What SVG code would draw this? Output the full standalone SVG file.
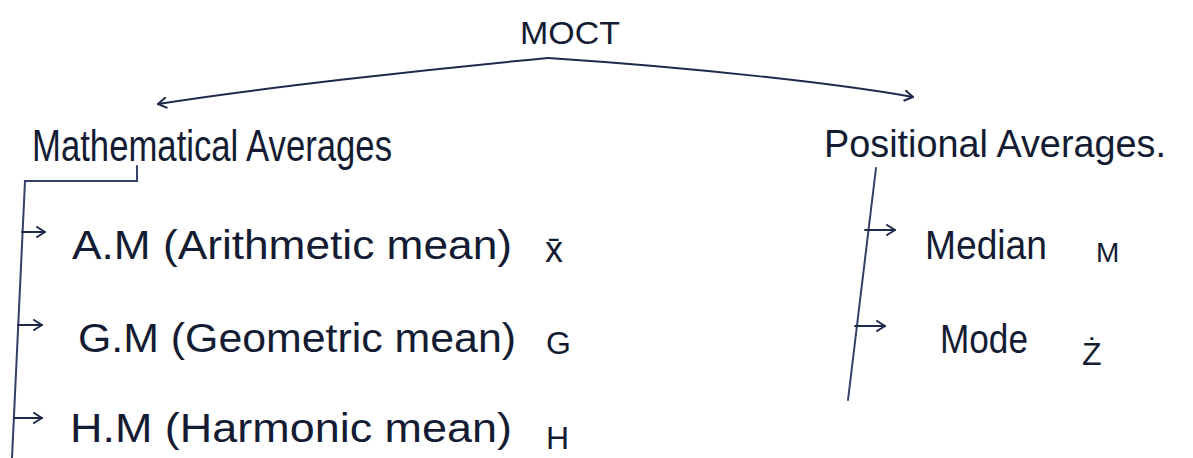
<svg xmlns="http://www.w3.org/2000/svg" width="1193" height="458" viewBox="0 0 1193 458">
  <defs>
    <marker id="tip" viewBox="0 0 12 12" refX="10" refY="6" markerWidth="12" markerHeight="12" markerUnits="userSpaceOnUse" orient="auto">
      <path d="M2,1 L10,6 L2,11" fill="none" stroke="#1e2a4a" stroke-width="2" stroke-linecap="round" stroke-linejoin="round"/>
    </marker>
    <style>
      .ink { fill: #141c33; font-family: "Liberation Sans", "DejaVu Sans", sans-serif; }
      .line { fill: none; stroke: #34406a; stroke-width: 2; stroke-linecap: round; }
      .branch { fill: none; stroke: #1e2a4a; stroke-width: 2; stroke-linecap: round; marker-end: url(#tip); }
    </style>
  </defs>
  <rect width="1193" height="458" fill="#ffffff"/>

  <!-- root -->
  <g id="root">
    <text class="ink" x="520" y="44" font-size="32" textLength="100" lengthAdjust="spacingAndGlyphs">MOCT</text>
  </g>

  <!-- category headings -->
  <g id="mathematical">
    <text class="ink" x="32" y="161" font-size="44" textLength="360" lengthAdjust="spacingAndGlyphs">Mathematical Averages</text>
  </g>
  <g id="positional">
    <text class="ink" x="824" y="157" font-size="38" textLength="342" lengthAdjust="spacingAndGlyphs">Positional Averages.</text>
  </g>

  <!-- mathematical averages -->
  <g id="am">
    <text class="ink" x="72" y="259" font-size="40" textLength="440" lengthAdjust="spacingAndGlyphs">A.M (Arithmetic mean)</text>
    <text class="ink" x="545" y="262" font-size="36">x̄</text>
  </g>
  <g id="gm">
    <text class="ink" x="78" y="352" font-size="40" textLength="438" lengthAdjust="spacingAndGlyphs">G.M (Geometric mean)</text>
    <text class="ink" x="546" y="354" font-size="32">G</text>
  </g>
  <g id="hm">
    <text class="ink" x="70" y="442" font-size="40" textLength="442" lengthAdjust="spacingAndGlyphs">H.M (Harmonic mean)</text>
    <text class="ink" x="546" y="449" font-size="32">H</text>
  </g>

  <!-- positional averages -->
  <g id="median">
    <text class="ink" x="925" y="259" font-size="40" textLength="122" lengthAdjust="spacingAndGlyphs">Median</text>
    <text class="ink" x="1096" y="262" font-size="28">M</text>
  </g>
  <g id="mode">
    <text class="ink" x="940" y="353" font-size="40" textLength="88" lengthAdjust="spacingAndGlyphs">Mode</text>
    <text class="ink" x="1082" y="365" font-size="32">Ż</text>
  </g>

  <!-- connectors -->
  <g id="connectors">
    <path class="branch" d="M548,58 C420,70 260,88 158,104"/>
    <path class="branch" d="M548,58 C700,68 840,84 913,97"/>
    <path class="line" d="M137,166 L137,181 L25,181 L12,458"/>
    <path class="branch" d="M22,232 L45,232"/>
    <path class="branch" d="M18,325 L42,325"/>
    <path class="branch" d="M14,418 L42,418"/>
    <path class="line" d="M876,168 L848,400"/>
    <path class="branch" d="M865,230 L895,230"/>
    <path class="branch" d="M855,326 L885,326"/>
  </g>
</svg>
